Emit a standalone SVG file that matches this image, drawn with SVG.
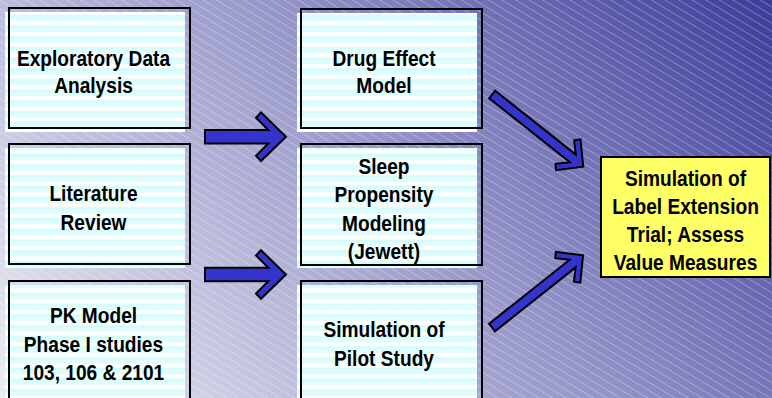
<svg xmlns="http://www.w3.org/2000/svg" width="772" height="398" viewBox="0 0 772 398">
  <defs>
    <!-- backdrop: diagonal blue-to-pale wash -->
    <linearGradient id="wash" gradientUnits="userSpaceOnUse" x1="772" y1="0" x2="120" y2="542">
      <stop offset="0" stop-color="#3c3c9a"/>
      <stop offset="0.45" stop-color="#9494c8"/>
      <stop offset="1" stop-color="#ececf3"/>
    </linearGradient>
    <!-- fine light diagonal hatching over the backdrop -->
    <pattern id="hatch" patternUnits="userSpaceOnUse" width="7" height="7" patternTransform="rotate(31)">
      <rect x="0" y="0" width="7" height="1" fill="#ffffff" opacity="0.28"/>
    </pattern>
    <!-- pale cyan texture used inside the process boxes -->
    <pattern id="cyanTex" patternUnits="userSpaceOnUse" width="6" height="10.7">
      <rect width="6" height="10.7" fill="#d4fcfc"/>
      <path d="M0,0 H6 V3.2 Q4.5,5.2 3,3.4 Q1.5,5.2 0,3.2 Z" fill="#ffffff"/>
      <g fill="#ffffff" opacity="0.8">
        <rect x="0" y="7" width="1" height="1"/>
        <rect x="2" y="7" width="1" height="1"/>
        <rect x="4" y="7" width="1" height="1"/>
        <rect x="1" y="8.5" width="1" height="1"/>
        <rect x="3" y="8.5" width="1" height="1"/>
        <rect x="5" y="8.5" width="1" height="1"/>
        <rect x="0" y="10" width="1" height="0.7"/>
        <rect x="2" y="10" width="1" height="0.7"/>
        <rect x="4" y="10" width="1" height="0.7"/>
      </g>
    </pattern>
    <!-- block arrow shapes, origin at the tail centre, pointing along +x -->
    <path id="arrowWide" d="M0,-6.7 H63.3 L51,-19 L56,-24.3 L81,0 L56,24.3 L51,19 L63.3,6.7 H0 Z"/>
    <path id="arrowSlim" d="M0,-4.8 H102.9 L92.7,-15 L97,-19.7 L116.2,0 L97,19.7 L92.7,15 L102.9,4.8 H0 Z"/>
  </defs>
  <style>
    .box-fill { fill: url(#cyanTex); }
    .box-edge { fill: none; stroke: #000000; stroke-width: 2; }
    .goal { fill: #ffff66; stroke: #000000; stroke-width: 2; }
    .lbl { font-family: "Liberation Sans", Arial, sans-serif; font-weight: bold; font-size: 22px; fill: #000000; text-anchor: middle; }
    .arrow { fill: #3434cc; stroke: #000000; stroke-width: 2; stroke-linejoin: miter; }
  </style>

  <rect width="772" height="398" fill="url(#wash)"/>
  <rect width="772" height="398" fill="url(#hatch)"/>

  <g id="connectors">
    <use href="#arrowWide" class="arrow" transform="translate(205 136.7)"/>
    <use href="#arrowWide" class="arrow" transform="translate(205 274.5)"/>
    <use href="#arrowSlim" class="arrow" transform="translate(492.2 94.5) rotate(38.4)"/>
    <use href="#arrowSlim" class="arrow" transform="translate(492 327.5) rotate(-38.4)"/>
  </g>

  <g id="node-eda">
    <rect class="box-fill" x="5" y="12" width="180" height="120"/>
    <rect class="box-edge" x="9" y="8" width="181" height="120"/>
    <text class="lbl" transform="translate(93.5 0) scale(0.87 1)"><tspan x="0" y="66">Exploratory Data</tspan><tspan x="0" y="93">Analysis</tspan></text>
  </g>

  <g id="node-literature">
    <rect class="box-fill" x="5" y="148" width="180" height="120"/>
    <rect class="box-edge" x="9" y="144" width="181" height="120"/>
    <text class="lbl" transform="translate(93.5 0) scale(0.87 1)"><tspan x="0" y="201.5">Literature</tspan><tspan x="0" y="230">Review</tspan></text>
  </g>

  <g id="node-pk">
    <rect class="box-fill" x="5" y="285" width="180" height="120"/>
    <rect class="box-edge" x="9" y="281" width="181" height="120"/>
    <text class="lbl" transform="translate(93.5 0) scale(0.87 1)"><tspan x="0" y="323.5">PK Model</tspan><tspan x="0" y="352">Phase I studies</tspan><tspan x="0" y="380">103, 106 &amp; 2101</tspan></text>
  </g>

  <g id="node-drug-effect">
    <rect class="box-fill" x="297" y="13" width="180" height="119"/>
    <rect class="box-edge" x="301" y="9" width="181" height="119"/>
    <text class="lbl" transform="translate(384 0) scale(0.87 1)"><tspan x="0" y="66">Drug Effect</tspan><tspan x="0" y="93">Model</tspan></text>
  </g>

  <g id="node-sleep">
    <rect class="box-fill" x="297" y="148" width="180" height="120"/>
    <rect class="box-edge" x="301" y="144" width="181" height="121"/>
    <text class="lbl" transform="translate(384 0) scale(0.87 1)"><tspan x="0" y="174">Sleep</tspan><tspan x="0" y="202">Propensity</tspan><tspan x="0" y="231">Modeling</tspan><tspan x="0" y="259">(Jewett)</tspan></text>
  </g>

  <g id="node-pilot">
    <rect class="box-fill" x="297" y="285" width="180" height="120"/>
    <rect class="box-edge" x="301" y="281" width="181" height="120"/>
    <text class="lbl" transform="translate(384 0) scale(0.87 1)"><tspan x="0" y="337">Simulation of</tspan><tspan x="0" y="366">Pilot Study</tspan></text>
  </g>

  <g id="node-label-extension">
    <rect class="goal" x="601" y="157" width="169" height="120"/>
    <text class="lbl" transform="translate(685.5 0) scale(0.87 1)"><tspan x="0" y="186">Simulation of</tspan><tspan x="0" y="214">Label Extension</tspan><tspan x="0" y="242">Trial; Assess</tspan><tspan x="0" y="270">Value Measures</tspan></text>
  </g>
</svg>
